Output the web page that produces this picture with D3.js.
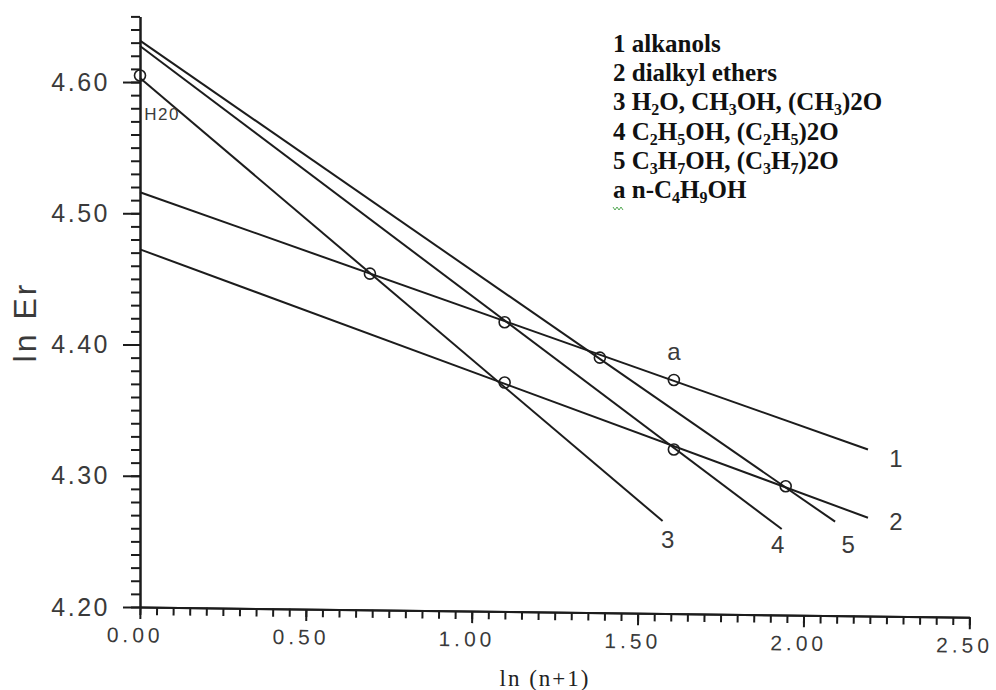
<!DOCTYPE html>
<html>
<head>
<meta charset="utf-8">
<script src="https://cdn.jsdelivr.net/npm/d3@7"></script>
<style>
  body { margin: 0; background: #fff; }
</style>
</head>
<body>
<svg id="chart" width="996" height="690"></svg>
<script>
// tick labels
var xTicks = [0, 0.5, 1.0, 1.5, 2.0, 2.5];
var yTicks = [4.20, 4.30, 4.40, 4.50, 4.60];

// fitted lines: value at ln(n+1)=0 and where each line stops
var lineNames = ['1', '2', '3', '4', '5'];
var lineStartY = [4.516, 4.4725, 4.603, 4.6274, 4.6315];
var lineEndX = [2.194, 2.194, 1.575, 1.934, 2.095];
var lineEndY = [4.320, 4.268, 4.2655, 4.2594, 4.265];

// measured points (open circles)
var pointX = [0, 0.693, 1.099, 1.386, 1.609, 1.099, 1.609, 1.946];
var pointY = [4.605, 4.454, 4.417, 4.390, 4.373, 4.371, 4.320, 4.292];
var pointLabels = ['H20', '', '', '', 'a', '', '', ''];

// legend, "_d" marks a subscript digit
var legendRows = [
    '1 alkanols',
    '2 dialkyl ethers',
    '3 H_2O, CH_3OH, (CH_3)2O',
    '4 C_2H_5OH, (C_2H_5)2O',
    '5 C_3H_7OH, (C_3H_7)2O',
    'a n-C_4H_9OH'
];

var ink = '#1c1c1c';
var labelInk = '#3a3a3a';

var svg = d3.select('#chart');
var x = d3.scaleLinear().domain([0, 2.5]).range([140, 969.5]);
var y = d3.scaleLinear().domain([4.20, 4.65]).range([607, 16.4]);

var yMinor = d3.range(420, 466, 1).map(v => v / 100);
var xMinor = d3.range(0, 51, 1).map(v => v * 0.05);

function styleAxis(g) {
    g.select('.domain').attr('stroke', ink).attr('stroke-width', 2);
    g.selectAll('.tick line').attr('stroke', ink).attr('stroke-width', 2);
}

// y axis
svg.append('g').attr('transform', 'translate(140,0)')
    .call(d3.axisLeft(y).tickValues(yMinor).tickSize(9).tickSizeOuter(0).tickFormat(''))
    .call(styleAxis);
var yAxis = svg.append('g').attr('transform', 'translate(140,0)')
    .call(d3.axisLeft(y).tickValues(yTicks).tickSize(17).tickSizeOuter(0).tickFormat(d3.format('.2f')))
    .call(styleAxis);
yAxis.selectAll('.tick text')
    .attr('x', -30)
    .style('font-family', '"Liberation Sans", Arial, sans-serif')
    .style('font-size', '25px')
    .style('letter-spacing', '2.5px')
    .attr('fill', labelInk);

// x axis (the scanned axis line is slightly tilted)
var xg = svg.append('g').attr('transform', 'translate(0,607) rotate(0.71,140,0)');
xg.append('g')
    .call(d3.axisBottom(x).tickValues(xMinor).tickSize(8).tickSizeOuter(0).tickFormat(''))
    .call(styleAxis);
var xAxis = xg.append('g')
    .call(d3.axisBottom(x).tickValues(xTicks).tickSize(12).tickSizeOuter(0).tickFormat(d3.format('.2f')))
    .call(styleAxis);
xAxis.selectAll('.tick text')
    .attr('y', 28).attr('dy', '0.35em').attr('dx', -5)
    .style('font-family', '"Liberation Sans", Arial, sans-serif')
    .style('font-size', '21px')
    .style('letter-spacing', '4px')
    .attr('fill', labelInk);

// axis titles
svg.append('text')
    .attr('transform', 'translate(36,322) rotate(-90)')
    .attr('text-anchor', 'middle')
    .style('font-family', '"Liberation Sans", Arial, sans-serif')
    .style('font-size', '32px')
    .style('letter-spacing', '3px')
    .attr('fill', labelInk)
    .text('ln  Er');

svg.append('text')
    .attr('x', 545).attr('y', 686)
    .attr('text-anchor', 'middle')
    .style('font-family', '"Liberation Serif", "Times New Roman", serif')
    .style('font-size', '23px')
    .style('letter-spacing', '2px')
    .attr('fill', '#222')
    .text('ln (n+1)');

// fitted lines
svg.selectAll('line.fit').data(lineNames).enter().append('line')
    .attr('class', 'fit')
    .attr('x1', x(0))
    .attr('y1', (d, i) => y(lineStartY[i]))
    .attr('x2', (d, i) => x(lineEndX[i]))
    .attr('y2', (d, i) => y(lineEndY[i]))
    .attr('stroke', ink)
    .attr('stroke-width', 2);

// line numbers near the ends
var numOffsets = [[28, 9], [28, 4], [5, 19], [-4, 16], [13, 23]];
svg.selectAll('text.num').data(lineNames).enter().append('text')
    .attr('class', 'num')
    .attr('x', (d, i) => x(lineEndX[i]) + numOffsets[i][0])
    .attr('y', (d, i) => y(lineEndY[i]) + numOffsets[i][1])
    .attr('dy', '0.35em')
    .attr('text-anchor', 'middle')
    .style('font-family', '"Liberation Sans", Arial, sans-serif')
    .style('font-size', '24px')
    .attr('fill', labelInk)
    .text(d => d);

// points
svg.selectAll('circle.pt').data(pointX).enter().append('circle')
    .attr('class', 'pt')
    .attr('cx', d => x(d))
    .attr('cy', (d, i) => y(pointY[i]))
    .attr('r', 5.5)
    .attr('fill', 'none')
    .attr('stroke', ink)
    .attr('stroke-width', 1.6);

var labelOffsets = { 'H20': [22, 39, 17, 1.5], 'a': [0, -28, 24, 0] };
pointLabels.forEach(function(lab, i) {
    if (!lab) return;
    var o = labelOffsets[lab];
    svg.append('text')
        .attr('x', x(pointX[i]) + o[0])
        .attr('y', y(pointY[i]) + o[1])
        .attr('dy', '0.35em')
        .attr('text-anchor', 'middle')
        .style('font-family', '"Liberation Sans", Arial, sans-serif')
        .style('font-size', o[2] + 'px')
        .style('letter-spacing', o[3] + 'px')
        .attr('fill', labelInk)
        .text(lab);
});

// legend
legendRows.forEach(function(row, i) {
    var t = svg.append('text')
        .attr('x', 613).attr('y', 52 + i * 29.2)
        .style('font-family', '"Liberation Serif", "Times New Roman", serif')
        .style('font-size', '25px')
        .style('font-weight', 'bold')
        .attr('fill', '#111');
    var shifted = false;
    row.split(/_(\d)/).forEach(function(p, j) {
        if (p === '') return;
        var sub = j % 2 === 1;
        var dy = sub && !shifted ? 5 : (!sub && shifted ? -5 : 0);
        shifted = sub;
        t.append('tspan').attr('dy', dy).style('font-size', sub ? '16px' : null).text(p);
    });
});

// spell-check squiggle under the "a"
svg.append('path')
    .attr('d', 'M613,207 l2,3 l2,-3 l2,3 l2,-3 l2,3')
    .attr('fill', 'none')
    .attr('stroke', '#5a5')
    .attr('stroke-width', 1);
</script>
</body>
</html>
